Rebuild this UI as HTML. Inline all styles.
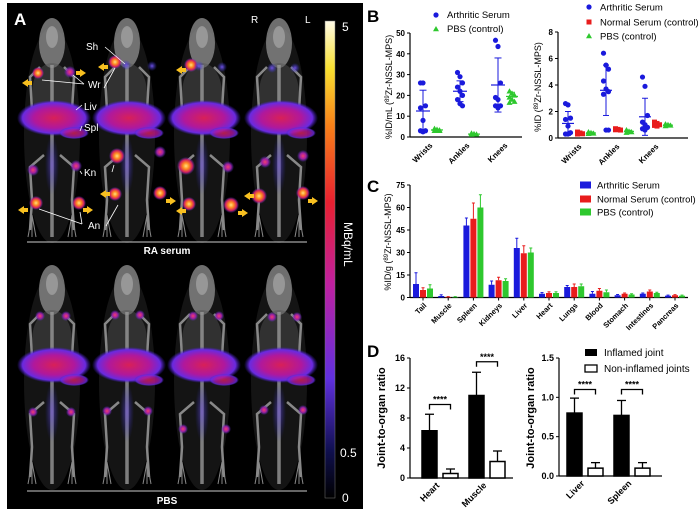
<!DOCTYPE html>
<html><head><meta charset="utf-8"><style>
html,body{margin:0;padding:0;background:#fff;width:698px;height:517px;overflow:hidden}
svg{display:block;font-family:"Liberation Sans",Arial,sans-serif}
</style></head><body>
<svg id="fig" width="698" height="517" viewBox="0 0 698 517" xmlns="http://www.w3.org/2000/svg">
<defs>
<radialGradient id="liv" cx="50%" cy="50%" r="50%">
<stop offset="0" stop-color="#d82058"/><stop offset="0.55" stop-color="#b0189c"/><stop offset="0.85" stop-color="#6a2ae0"/><stop offset="1" stop-color="#4020c0" stop-opacity="0"/></radialGradient>
<radialGradient id="hot" cx="50%" cy="50%" r="50%">
<stop offset="0" stop-color="#ffe080"/><stop offset="0.35" stop-color="#ff8a20"/><stop offset="0.7" stop-color="#d02060"/><stop offset="1" stop-color="#6030d0" stop-opacity="0"/></radialGradient>
<radialGradient id="warm" cx="50%" cy="50%" r="50%">
<stop offset="0" stop-color="#f04070"/><stop offset="0.5" stop-color="#a020a0"/><stop offset="1" stop-color="#5030d0" stop-opacity="0"/></radialGradient>
<radialGradient id="cool" cx="50%" cy="50%" r="50%">
<stop offset="0" stop-color="#7050e0"/><stop offset="1" stop-color="#3030c0" stop-opacity="0"/></radialGradient>
<linearGradient id="cbar" x1="0" y1="1" x2="0" y2="0">
<stop offset="0" stop-color="#000"/><stop offset="0.1" stop-color="#101050"/><stop offset="0.25" stop-color="#6030e0"/><stop offset="0.45" stop-color="#c020a0"/><stop offset="0.62" stop-color="#e82030"/><stop offset="0.78" stop-color="#f88018"/><stop offset="0.9" stop-color="#f8e030"/><stop offset="1" stop-color="#fffbe8"/></linearGradient>
</defs>

<g>
<rect x="7" y="3" width="356" height="506" fill="#000"/>
<g id="mice"></g>
<text x="14" y="25" font-size="17" font-weight="bold" fill="#fff">A</text>
<g fill="#fff" font-size="10">
<text x="86" y="50">Sh</text><text x="88" y="88">Wr</text><text x="84" y="110">Liv</text><text x="84" y="131">Spl</text><text x="84" y="176">Kn</text><text x="88" y="229">An</text>
<text x="251" y="23">R</text><text x="305" y="23">L</text>
</g>
<g stroke="#fff" stroke-width="0.8">
<line x1="105" y1="47" x2="125" y2="64"/><line x1="42" y1="80" x2="84" y2="84"/><line x1="73" y1="75" x2="84" y2="84"/><line x1="104" y1="88" x2="115" y2="68"/>
<line x1="76" y1="110" x2="82" y2="105"/><line x1="80" y1="131" x2="82" y2="126"/><line x1="112" y1="172" x2="114" y2="165"/><line x1="80" y1="171" x2="82" y2="174"/>
<line x1="39" y1="209" x2="82" y2="224"/><line x1="80" y1="212" x2="82" y2="224"/><line x1="106" y1="226" x2="118" y2="205"/>
</g>
<g fill="#f8c020">
<polygon points="22,83 28,79 28,81 32,81 32,85 28,85 28,87"/>
<polygon points="86,73 80,69 80,71 76,71 76,75 80,75 80,77"/>
<polygon points="98,67 104,63 104,65 108,65 108,69 104,69 104,71"/>
<polygon points="176,70 182,66 182,68 186,68 186,72 182,72 182,74"/>
<polygon points="18,210 24,206 24,208 28,208 28,212 24,212 24,214"/>
<polygon points="93,210 87,206 87,208 83,208 83,212 87,212 87,214"/>
<polygon points="100,194 106,190 106,192 110,192 110,196 106,196 106,198"/>
<polygon points="176,201 170,197 170,199 166,199 166,203 170,203 170,205"/>
<polygon points="176,211 182,207 182,209 186,209 186,213 182,213 182,215"/>
<polygon points="248,213 242,209 242,211 238,211 238,215 242,215 242,217"/>
<polygon points="244,196 250,192 250,194 254,194 254,198 250,198 250,200"/>
<polygon points="318,201 312,197 312,199 308,199 308,203 312,203 312,205"/>
</g>
<line x1="27" y1="242" x2="307" y2="242" stroke="#ccc" stroke-width="1"/>
<text x="167" y="254" font-size="10" font-weight="bold" fill="#fff" text-anchor="middle">RA serum</text>
<line x1="27" y1="491" x2="307" y2="491" stroke="#ccc" stroke-width="1"/>
<text x="167" y="504" font-size="10" font-weight="bold" fill="#fff" text-anchor="middle">PBS</text>
<rect x="325" y="21" width="10" height="477" fill="url(#cbar)" stroke="#777" stroke-width="0.5"/>
<g fill="#fff" font-size="12">
<text x="342" y="31">5</text><text x="340" y="457">0.5</text><text x="342" y="502">0</text>
</g>
<text transform="translate(344,222) rotate(90)" font-size="12" fill="#fff">MBq/mL</text>
</g>

<g id="charts"></g>
</svg>
<script>
// ---------- Panel B left ----------
const bCats = ["Wrists","Ankles","Knees"];
const bLeftArth = [[26,26,15,14,8,3,3,2.5],[31,29,26,24,22,20,18,16,15],[46.5,43.5,26,19,18,15,15,14]];
const bLeftArthMean = [12.5,22,25];
const bLeftArthSd = [10,5,13];
const bLeftPbs = [[4,3.6,3.3,3,3.4,3],[1.8,1.5,1.3,1.2,1.4],[22,21,20,19,18,17,16.5]];
const bLeftPbsMean = [3.4,1.4,19.5];
const bLeftPbsSd = [0.4,0.2,2];
const bLeftTicks = [0,10,20,30,40,50];
// ---------- Panel B right ----------
const bRightArth = [[2.6,2.5,1.5,1.4,0.9,0.4,0.3,0.3],[6.4,5.5,5.2,4.3,3.7,3.5,3.3,0.6,0.6],[4.6,3.9,1.7,1.2,1.0,0.8,0.7,0.6]];
const bRightArthMean = [1.1,3.6,1.6];
const bRightArthSd = [0.9,1.9,1.4];
const bRightNorm = [[0.45,0.38,0.32,0.3],[0.7,0.65,0.6,0.62],[1.2,1.1,1.0,0.95,0.9]];
const bRightNormMean = [0.37,0.64,1.02];
const bRightPbs = [[0.45,0.4,0.35,0.32],[0.6,0.5,0.45,0.4],[1.05,1.0,0.95,0.9]];
const bRightPbsMean = [0.38,0.5,0.97];
const bRightTicks = [0,2,4,6,8];
// ---------- Panel C ----------
const cCats = ["Tail","Muscle","Spleen","Kidneys","Liver","Heart","Lungs","Blood","Stomach","Intestines","Pancreas"];
const cArth = [9,1,48,8.5,33,2.5,7,2.5,1.5,2.5,1.2];
const cArthErr = [7.5,0.8,5,2.5,6.5,0.8,1,1.5,0.5,0.5,0.4];
const cNorm = [5,0.3,52.5,11.5,29.5,3,7,4.5,2.5,4,1.5];
const cNormErr = [1.5,0.3,10.5,2,5,0.8,2,1.5,0.5,1,0.4];
const cPbs = [6,0.3,60,11,30,3,7.5,3.5,2,3,1.2];
const cPbsErr = [2.5,0.3,8.5,1.5,3,0.8,1.5,1.5,0.5,0.5,0.4];
const cTicks = [0,15,30,45,60,75];
// ---------- Panel D ----------
const dLeftCats = ["Heart","Muscle"];
const dLeftInfl = [6.3,11];
const dLeftInflErr = [2.2,3.1];
const dLeftNon = [0.6,2.2];
const dLeftNonErr = [0.6,1.4];
const dLeftSig = [9.8,15.5];
const dLeftTicks = [0,4,8,12,16];
const dRightCats = ["Liver","Spleen"];
const dRightInfl = [0.8,0.77];
const dRightInflErr = [0.19,0.19];
const dRightNon = [0.1,0.1];
const dRightNonErr = [0.07,0.07];
const dRightSig = [1.1,1.1];
const dRightTicks = ["0.0","0.5","1.0","1.5"];

const NS="http://www.w3.org/2000/svg";
const root=document.getElementById('charts');
function mk(tag,attrs,parent){const e=document.createElementNS(NS,tag);for(const k in attrs)e.setAttribute(k,attrs[k]);(parent||root).appendChild(e);return e;}
function txt(s,attrs,parent){const e=mk('text',attrs,parent);e.textContent=s;return e;}
function lin(lo,hi,p0,p1){return v=>p0+(v-lo)/(hi-lo)*(p1-p0);}

const BLUE="#1a1adc",RED="#e81c1c",GREEN="#2ec82e";

function yAxis(g,x,y,ticks,lo,hi,fs){
  const l=mk('line',{x1:x,y1:y(lo),x2:x,y2:y(hi),stroke:'#000','stroke-width':1.2},g);
  
  ticks.forEach(t=>{const v=+t;
    mk('line',{x1:x-3,y1:y(v),x2:x,y2:y(v),stroke:'#000','stroke-width':1},g);
    const e=txt(String(t),{x:x-5,y:y(v)+3,'font-size':fs||8,'font-weight':'bold','text-anchor':'end'},g);
    });
}
function xAxis(g,x0,x1,y0){const l=mk('line',{x1:x0,y1:y0,x2:x1,y2:y0,stroke:'#000','stroke-width':1.2},g);
  }
function xLabel(g,s,x,y,fs){const e=txt(s,{transform:`translate(${x},${y}) rotate(-45)`,'font-size':fs||8,'font-weight':'bold','text-anchor':'end'},g);
  }
function yTitle(g,html,x,y,fs,bold){const e=mk('text',{transform:`translate(${x},${y}) rotate(-90)`,'font-size':fs,'text-anchor':'middle','font-weight':bold?'bold':'normal'},g);
  e.innerHTML=html;}
function marker(g,shape,x,y,c){let e;
  if(shape==='c')e=mk('circle',{cx:x,cy:y,r:2.6,fill:c},g);
  else if(shape==='s')e=mk('rect',{x:x-2.5,y:y-2.5,width:5,height:5,fill:c},g);
  else e=mk('polygon',{points:`${x},${y-3} ${x+3},${y+2.2} ${x-3},${y+2.2}`,fill:c},g);
  return e;}
function errBar(g,x,y,m,sd,c,w){
  mk('line',{x1:x-w,y1:y(m),x2:x+w,y2:y(m),stroke:c,'stroke-width':1.2},g);
  mk('line',{x1:x,y1:y(Math.max(0,m-sd)),x2:x,y2:y(m+sd),stroke:c,'stroke-width':1},g);
  mk('line',{x1:x-w/2,y1:y(m+sd),x2:x+w/2,y2:y(m+sd),stroke:c,'stroke-width':1},g);
  mk('line',{x1:x-w/2,y1:y(Math.max(0,m-sd)),x2:x+w/2,y2:y(Math.max(0,m-sd)),stroke:c,'stroke-width':1},g);}
function scatterGroup(g,vals,cx,y,shape,c,name){
  vals.forEach((v,i)=>{const off=((i%3)-1)*2.5;const m=marker(g,shape,cx+off,y(v),c);
    });}

// Panel B
const gB=mk('g',{});
{const e=txt('B',{x:367,y:22,'font-size':17,'font-weight':'bold'},gB);}
{const g=mk('g',{},gB);
 const y=lin(0,50,137,33);const ax=410;
 yAxis(g,ax,y,bLeftTicks,0,50);xAxis(g,ax,522,137);
 yTitle(g,'%ID/mL (<tspan font-size="6" dy="-3">89</tspan><tspan dy="3">Zr-NSSL-MPS)</tspan>',392,87,9,false);
 const cx=[423,460,498];
 bCats.forEach((c,i)=>{
  scatterGroup(g,bLeftArth[i],cx[i],y,'c',BLUE,'arthritic-point');
  errBar(g,cx[i],y,bLeftArthMean[i],bLeftArthSd[i],BLUE,7);
  scatterGroup(g,bLeftPbs[i],cx[i]+14,y,'t',GREEN,'pbs-point');
  errBar(g,cx[i]+14,y,bLeftPbsMean[i],bLeftPbsSd[i],GREEN,6);
  xLabel(g,c,cx[i]+10,146);});
 const l1=marker(g,'c',436,15,BLUE);
 let t=txt('Arthritic Serum',{x:447,y:18,'font-size':9.5},g);
 const l2=marker(g,'t',436,29,GREEN);
 t=txt('PBS (control)',{x:447,y:32,'font-size':9.5},g);
}
{const g=mk('g',{},gB);
 const y=lin(0,8,138,32);const ax=558;
 yAxis(g,ax,y,bRightTicks,0,8);xAxis(g,ax,688,138);
 yTitle(g,'%ID (<tspan font-size="6" dy="-3">89</tspan><tspan dy="3">Zr-NSSL-MPS)</tspan>',541,87,9,false);
 const cx=[568,606,645];
 bCats.forEach((c,i)=>{
  scatterGroup(g,bRightArth[i],cx[i],y,'c',BLUE,'arthritic-point');
  errBar(g,cx[i],y,bRightArthMean[i],bRightArthSd[i],BLUE,6);
  scatterGroup(g,bRightNorm[i],cx[i]+12,y,'s',RED,'normal-serum-point');
  errBar(g,cx[i]+12,y,bRightNormMean[i],0.08,RED,5);
  scatterGroup(g,bRightPbs[i],cx[i]+23,y,'t',GREEN,'pbs-point');
  errBar(g,cx[i]+23,y,bRightPbsMean[i],0.08,GREEN,5);
  xLabel(g,c,cx[i]+14,147);});
 const leg=[['c',BLUE,'Arthritic Serum',7,'arthritic'],['s',RED,'Normal Serum (control)',22,'normal-serum'],['t',GREEN,'PBS (control)',36,'pbs']];
 leg.forEach(L=>{const m=marker(g,L[0],589,L[3],L[1]);
  const t=txt(L[2],{x:600,y:L[3]+3.5,'font-size':9.5},g);});
}

// Panel C
{const g=mk('g',{});
 const e=txt('C',{x:367,y:192,'font-size':17,'font-weight':'bold'},g);
 const y=lin(0,75,297.5,185);const ax=410;
 yAxis(g,ax,y,cTicks,0,75);xAxis(g,ax,688,297.5);
 yTitle(g,'%ID/g (<tspan font-size="6" dy="-3">89</tspan><tspan dy="3">Zr-NSSL-MPS)</tspan>',391,242,9,false);
 const x=i=>423+i*25.2;const bw=6;
 const series=[[cArth,cArthErr,BLUE,-7,'bar-arthritic'],[cNorm,cNormErr,RED,0,'bar-normal-serum'],[cPbs,cPbsErr,GREEN,7,'bar-pbs']];
 cCats.forEach((c,i)=>{
  series.forEach(S=>{const cx=x(i)+S[3];const v=S[0][i],er=S[1][i];
   mk('line',{x1:cx,y1:y(v),x2:cx,y2:y(v+er),stroke:S[2],'stroke-width':1},g);
   mk('line',{x1:cx-1.5,y1:y(v+er),x2:cx+1.5,y2:y(v+er),stroke:S[2],'stroke-width':1},g);
   const r=mk('rect',{x:cx-bw/2,y:y(v),width:bw,height:y(0)-y(v),fill:S[2]},g);
   });
  mk('line',{x1:x(i),y1:297.5,x2:x(i),y2:300.5,stroke:'#000','stroke-width':1},g);
  xLabel(g,c,x(i)+4,306,7.5);});
 const leg=[[BLUE,'Arthritic Serum',185,'arthritic'],[RED,'Normal Serum (control)',199,'normal-serum'],[GREEN,'PBS (control)',212,'pbs']];
 leg.forEach(L=>{const m=mk('rect',{x:580,y:L[2]-3.5,width:11,height:7,fill:L[0]},g);
  const t=txt(L[1],{x:597,y:L[2]+3.5,'font-size':9.5},g);});
}

// Panel D
function dChart(g,name,cats,infl,inflErr,non,nonErr,sig,ticks,lo,hi,ax,x1,y0,yTop,bx){
 const c=mk('g',{},g);
 const y=lin(lo,hi,y0,yTop);
 yAxis(c,ax,y,ticks,lo,hi,9);xAxis(c,ax,x1,y0);
 yTitle(c,'Joint-to-organ ratio',ax-25,418,11,true);
 cats.forEach((cat,i)=>{
  const b=bx[i];
  [[infl,inflErr,b,'#000','bar-inflamed-joint'],[non,nonErr,b+21,'#fff','bar-non-inflamed-joints']].forEach(S=>{
   const v=S[0][i],er=S[1][i];
   mk('line',{x1:S[2]+7.5,y1:y(v),x2:S[2]+7.5,y2:y(v+er),stroke:'#000','stroke-width':1.3},c);
   mk('line',{x1:S[2]+3,y1:y(v+er),x2:S[2]+12,y2:y(v+er),stroke:'#000','stroke-width':1.3},c);
   const r=mk('rect',{x:S[2],y:y(v),width:15,height:y(lo)-y(v),fill:S[3],stroke:'#000','stroke-width':1.5},c);
   });
  const sy=y(sig[i]);
  const br=mk('path',{d:`M${b+7.5},${sy+5} V${sy} H${b+28.5} V${sy+5}`,fill:'none',stroke:'#000','stroke-width':1.3},c);
  
  const st=txt('****',{x:b+18,y:sy-2,'font-size':9,'font-weight':'bold','text-anchor':'middle'},c);
  
  xLabel(c,cat,b+18,y0+8,9);});
}
{const g=mk('g',{});
 const e=txt('D',{x:367,y:357,'font-size':17,'font-weight':'bold'},g);
 dChart(g,'chart-d-left',dLeftCats,dLeftInfl,dLeftInflErr,dLeftNon,dLeftNonErr,dLeftSig,dLeftTicks,0,16,410,513,478,358,[422,469]);
 dChart(g,'chart-d-right',dRightCats,dRightInfl,dRightInflErr,dRightNon,dRightNonErr,dRightSig,dRightTicks,0,1.5,559,662,476,358,[567,614]);
 const m1=mk('rect',{x:585,y:349,width:12,height:7,fill:'#000'},g);
 let t=txt('Inflamed joint',{x:604,y:356,'font-size':10},g);
 const m2=mk('rect',{x:585,y:365,width:12,height:7,fill:'#fff',stroke:'#000','stroke-width':1.3},g);
 t=txt('Non-inflamed joints',{x:604,y:372,'font-size':10},g);
}

// Panel A mice (illustrative)
const mice=document.getElementById('mice');
const miceCx=[52,127,202,279];
const rowY=[15,262];
function mouse(cx,y0){
 const g=mk('g',{},mice);
 mk('ellipse',{cx:cx,cy:y0+120,rx:28,ry:108,fill:'#1c1c1c',opacity:0.7},g);
 mk('ellipse',{cx:cx,cy:y0+28,rx:13,ry:25,fill:'#8a8a8a',opacity:0.8},g);
 mk('ellipse',{cx:cx,cy:y0+22,rx:6,ry:11,fill:'#bbb',opacity:0.5},g);
 mk('ellipse',{cx:cx,cy:y0+78,rx:20,ry:30,fill:'#555',opacity:0.45},g);
 mk('line',{x1:cx,y1:y0+50,x2:cx,y2:y0+222,stroke:'#999','stroke-width':3.5,opacity:0.8},g);
 [-1,1].forEach(d=>{
  mk('path',{d:`M${cx+d*12},${y0+52} L${cx+d*22},${y0+62} L${cx+d*20},${y0+95}`,stroke:'#888','stroke-width':2.5,fill:'none'},g);
  mk('path',{d:`M${cx+d*8},${y0+140} L${cx+d*22},${y0+152} L${cx+d*20},${y0+185} L${cx+d*22},${y0+215}`,stroke:'#888','stroke-width':2.5,fill:'none'},g);
  for(let k=0;k<3;k++)mk('line',{x1:cx+d*20,y1:y0+200,x2:cx+d*(16+k*4),y2:y0+222,stroke:'#888','stroke-width':1},g);});
 mk('ellipse',{cx:cx+2,cy:y0+103,rx:37,ry:18,fill:'url(#liv)'},g);
 mk('ellipse',{cx:cx+22,cy:y0+118,rx:15,ry:6,fill:'url(#liv)',opacity:0.8},g);
 mk('ellipse',{cx:cx,cy:y0+150,rx:7,ry:30,fill:'url(#cool)',opacity:0.6},g);
}
miceCx.forEach(cx=>rowY.forEach(y0=>mouse(cx,y0)));
const hotTop=[[38,73,'hot',6],[70,72,'warm',6],[115,62,'hot',7],[126,65,'cool',5],[152,66,'cool',5],[117,156,'hot',8],[160,152,'warm',6],[115,194,'hot',7],[160,193,'hot',7],
 [191,65,'hot',7],[199,66,'cool',5],[222,67,'cool',5],[186,166,'hot',9],[228,167,'warm',6],[189,204,'hot',7],[231,205,'hot',8],
 [272,68,'cool',5],[295,68,'cool',5],[265,162,'warm',6],[303,156,'warm',6],[259,196,'hot',8],[303,193,'hot',7],[33,170,'warm',6],[76,166,'warm',6],[36,203,'hot',7],[79,203,'hot',7]];
hotTop.forEach(h=>{const e=mk('circle',{cx:h[0],cy:h[1],r:h[3],fill:`url(#${h[2]})`},mice);
 });
const hotBot=[[40,316],[66,316],[115,315],[140,315],[193,316],[219,316],[272,317],[297,317],[33,412],[71,412],[107,411],[148,411],[183,429],[226,429],[264,410],[303,410]];
hotBot.forEach(h=>{const e=mk('circle',{cx:h[0],cy:h[1],r:5,fill:'url(#warm)'},mice);
 });
</script>
</body></html>
